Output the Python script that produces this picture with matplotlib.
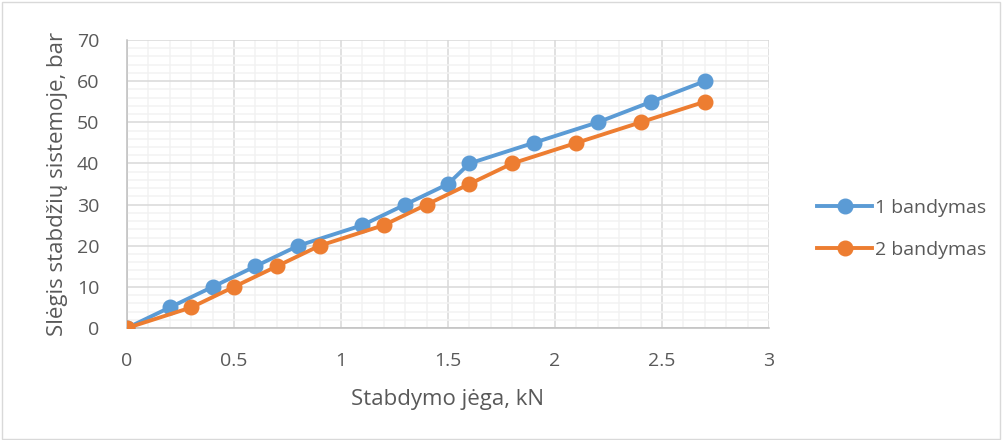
import matplotlib.pyplot as plt
from matplotlib.ticker import MultipleLocator
from matplotlib.patches import Rectangle

# data
x1 = [0, 0.2, 0.4, 0.6, 0.8, 1.1, 1.3, 1.5, 1.6, 1.9, 2.2, 2.45, 2.7]
y1 = [0, 5, 10, 15, 20, 25, 30, 35, 40, 45, 50, 55, 60]
x2 = [0, 0.3, 0.5, 0.7, 0.9, 1.2, 1.4, 1.6, 1.8, 2.1, 2.4, 2.7]
y2 = [0, 5, 10, 15, 20, 25, 30, 35, 40, 45, 50, 55]
labels = ['1 bandymas', '2 bandymas']

blue = '#5B9BD5'
orange = '#ED7D31'
text_col = '#595959'

plt.rcParams['font.family'] = ['Open Sans', 'DejaVu Sans']

fig = plt.figure(figsize=(10.03, 4.40), dpi=100)
fig.patch.set_facecolor('white')
fig.add_artist(Rectangle((0.002, 0.003), 0.995, 0.993, transform=fig.transFigure,
                         fill=False, edgecolor='#D9D9D9', linewidth=1))

ax = fig.add_axes([0.1266, 0.2545, 0.6401, 0.6545])

ax.plot(x1, y1, color=blue, linewidth=2.8, marker='o', markersize=10.5, label=labels[0],
        solid_joinstyle='round', zorder=4)
ax.plot(x2, y2, color=orange, linewidth=2.8, marker='o', markersize=10.5, label=labels[1],
        solid_joinstyle='round', zorder=4)

ax.set_xlim(0, 3)
ax.set_ylim(0, 70)
ax.xaxis.set_minor_locator(MultipleLocator(0.1))
ax.yaxis.set_major_locator(MultipleLocator(10))
ax.yaxis.set_minor_locator(MultipleLocator(2))
ax.set_xticks([0, 0.5, 1, 1.5, 2, 2.5, 3])
ax.set_xticklabels(['0', '0.5', '1', '1.5', '2', '2.5', '3'])

ax.grid(which='major', color='#D9D9D9', linewidth=1.1, zorder=1)
ax.grid(which='minor', color='#F2F2F2', linewidth=1.1, zorder=0)
ax.set_axisbelow(True)

for s in ['top', 'right']:
    ax.spines[s].set_visible(False)
for s in ['left', 'bottom']:
    ax.spines[s].set_color('#BFBFBF')
    ax.spines[s].set_linewidth(1.1)

ax.tick_params(which='both', length=0, labelsize=14, colors=text_col)
ax.tick_params(axis='x', pad=17)
ax.tick_params(axis='y', pad=20)
ax.set_xlabel('Stabdymo jėga, kN', fontsize=16, color=text_col, labelpad=14)
ax.set_ylabel('Slėgis stabdžių sistemoje, bar', fontsize=16, color=text_col, labelpad=6)

leg = ax.legend(loc='center left', bbox_to_anchor=(1.048, 0.345), frameon=False,
                fontsize=14, labelspacing=1.25, handlelength=2.8, handletextpad=0.15)
for t in leg.get_texts():
    t.set_color(text_col)

fig.savefig('out.png', dpi=100)
